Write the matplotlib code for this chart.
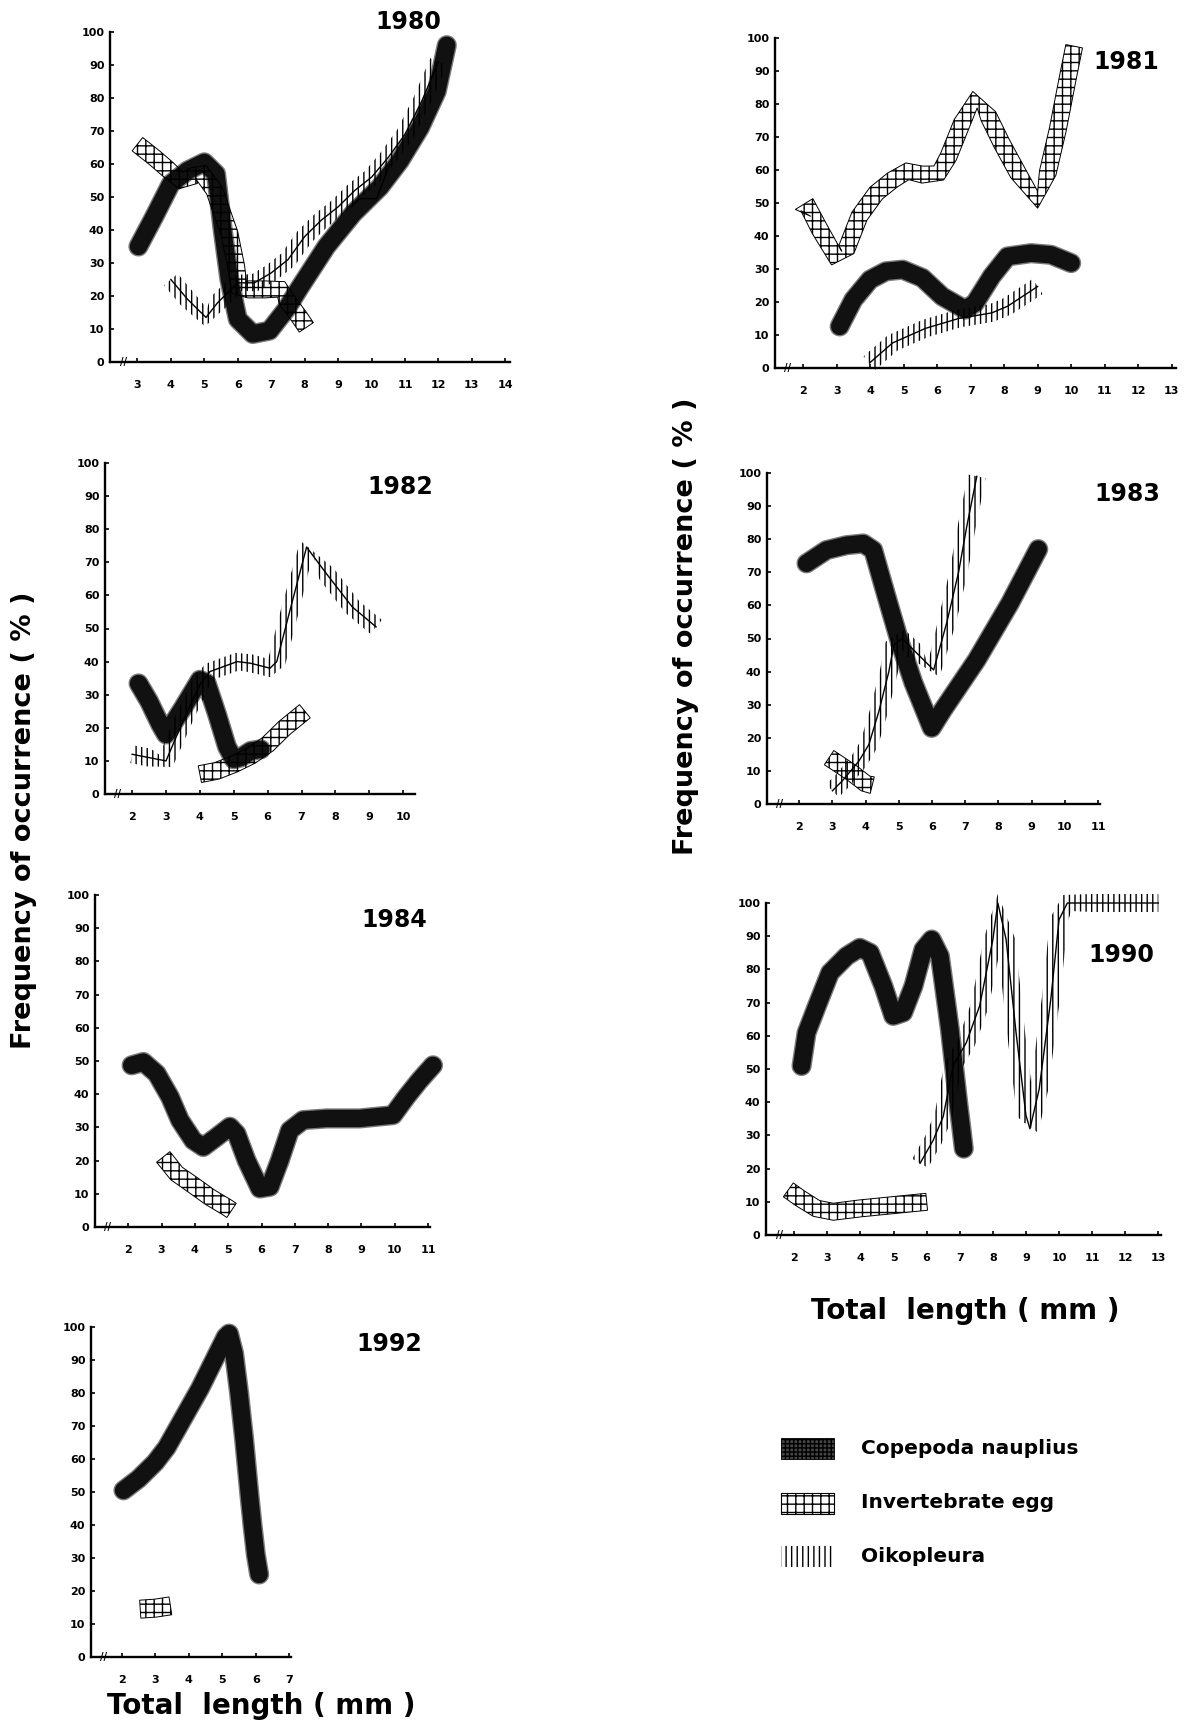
import numpy as np
import matplotlib
matplotlib.use("Agg")
import matplotlib.pyplot as plt
from matplotlib.patches import Polygon, Rectangle
import matplotlib.patheffects as pe

# ---------------- data ----------------
# 1980
cop80_x = [3.03, 3.5, 4.0, 4.5, 5.0, 5.35, 5.55, 5.75, 6.0, 6.45, 6.95, 7.45, 7.85, 8.65, 9.45, 10.25, 10.85, 11.45, 11.95, 12.25]
cop80_y = [35, 44, 54, 58, 60.5, 57, 40, 25, 13, 8.5, 9.5, 16, 22.5, 35, 45, 53, 61, 71, 82, 96]
egg80_x = [3.0, 3.5, 3.9, 4.3, 4.7, 4.9, 5.3, 5.75, 5.95, 6.05, 6.3, 6.8, 7.3, 7.45, 7.85, 8.05]
egg80_y = [66, 62, 58.5, 55, 56.5, 57.5, 52, 39, 29, 22, 22, 22, 22, 19, 13.5, 10.5]
oik80_x = [4.0, 4.5, 5.05, 5.4, 6.0, 6.5, 7.0, 7.5, 8.0, 8.5, 9.0, 9.5, 10.0, 10.5, 11.0, 11.5, 12.0]
oik80_y = [25, 19, 13.5, 18, 24, 24, 27, 31, 38, 43, 47, 52, 56, 62, 69, 79, 91]
thin80_x = [9.4, 9.65, 10.15, 10.55]
thin80_y = [47, 49.5, 49.5, 60]
# 1981
cop81_x = [3.09, 3.5, 4.0, 4.47, 4.97, 5.56, 6.15, 6.84, 7.13, 7.63, 8.1, 8.8, 9.4, 10.0]
cop81_y = [12.6, 20.7, 26.8, 29.3, 29.8, 27.3, 21.7, 17.7, 19.7, 27.8, 33.8, 34.8, 34.3, 31.8]
egg81_x = [2.0, 2.11, 2.5, 3.0, 3.29, 3.68, 4.18, 4.67, 5.11, 5.56, 6.05, 6.34, 6.74, 7.13, 7.53, 7.92, 8.41, 9.0, 9.3, 9.6, 9.89, 10.09]
egg81_y = [47, 49.5, 41.9, 33.3, 35.9, 46, 53, 57, 59.6, 58.6, 59.1, 64.1, 74.2, 81.3, 76.3, 68.2, 59.1, 51, 59.1, 72.2, 87.4, 97.5]
oik81_x = [3.98, 4.67, 5.65, 6.64, 7.63, 8.1, 9.0]
oik81_y = [1.5, 7.6, 12, 15, 16.7, 18.7, 24.7]
# 1982
cop82_x = [2.19, 2.5, 2.83, 3.0, 3.5, 4.0, 4.2, 4.5, 4.8, 5.0, 5.2, 5.5, 5.8]
cop82_y = [33.4, 28, 21, 18, 26, 34.5, 33.5, 24.3, 14.3, 10.5, 11, 13, 13.5]
egg82_x = [4.0, 4.5, 5.0, 5.5, 6.0, 6.5, 7.1]
egg82_y = [6, 7, 9, 11.5, 15, 20, 25]
oik82_x = [2.0, 2.5, 3.0, 3.5, 4.0, 4.3, 5.1, 5.5, 6.07, 6.27, 6.66, 7.15, 7.74, 8.5, 9.2]
oik82_y = [12, 11, 10, 22, 33, 37, 40, 39.5, 38, 40, 55.5, 74.6, 66.5, 56.5, 50.5]
# 1983
cop83_x = [2.22, 2.82, 3.43, 3.93, 4.23, 4.63, 5.04, 5.44, 5.99, 6.34, 7.35, 8.35, 9.2]
cop83_y = [72.7, 76.7, 78.2, 78.7, 76.7, 62.7, 48.6, 36.6, 23, 28.6, 43.6, 60.7, 77]
egg83_x = [2.9, 3.2, 3.6, 4.0, 4.2]
egg83_y = [14, 12, 9.3, 6.2, 5.7]
oik83_x = [3.0, 3.3, 3.8, 4.1, 4.4, 4.7, 4.85, 5.1, 5.45, 6.05, 6.45, 6.8, 7.05, 7.35]
oik83_y = [4, 7, 13, 18, 28, 40, 48, 50, 46.5, 40.5, 55, 70, 84, 99]
# 1984
cop84_x = [2.1, 2.45, 2.85, 3.25, 3.55, 3.95, 4.25, 4.65, 5.05, 5.25, 5.55, 5.95, 6.25, 6.55, 6.85, 7.25, 7.95, 8.95, 9.95, 10.35, 10.75, 11.15]
cop84_y = [48.7, 49.7, 46.2, 39.2, 32.2, 26.1, 24.1, 27.1, 30.2, 28.1, 20.1, 11.6, 12.1, 20.1, 29.1, 32.2, 32.7, 32.7, 33.7, 39.2, 44.2, 48.7]
egg84_x = [3.05, 3.45, 3.95, 4.45, 4.95, 5.1]
egg84_y = [21.1, 16.1, 12.6, 9.0, 6.0, 5.0]
# 1990
cop90_x = [2.22, 2.37, 2.68, 3.08, 3.58, 3.98, 4.29, 4.69, 4.99, 5.29, 5.6, 5.9, 6.15, 6.4, 6.7, 6.95, 7.05, 7.12]
cop90_y = [50.9, 60.9, 68.9, 79, 84, 86.5, 85, 75, 66, 67, 75, 86, 89, 84, 62, 40, 32, 26]
egg90_x = [1.82, 2.17, 2.67, 3.18, 3.98, 4.99, 6.0]
egg90_y = [13.6, 11.1, 8.0, 7.0, 8.0, 9.0, 10.0]
oik90_x = [5.8, 6.2, 6.5, 6.8, 7.2, 7.6, 8.0, 8.15, 8.4, 8.7, 9.0, 9.12, 9.4, 9.75, 10.0, 10.25, 11.0, 12.0, 13.0]
oik90_y = [21.6, 28.6, 35.7, 51, 58, 69, 89, 100, 89, 61, 36, 32, 44, 71, 95, 100, 100, 100, 100]
# 1992
cop92_x = [2.05, 2.5, 3.0, 3.34, 3.84, 4.34, 4.83, 5.1, 5.2, 5.35, 5.5, 5.65, 5.8, 5.9, 6.0, 6.1]
cop92_y = [50.5, 54, 59, 63.5, 72.5, 81.5, 91.5, 97, 98, 92, 80, 66, 50, 40, 31, 25]
egg92_x = [2.55, 3.0, 3.45]
egg92_y = [14.5, 14.8, 15.5]

y_ticks = [0, 10, 20, 30, 40, 50, 60, 70, 80, 90, 100]
legend_labels = ["Copepoda nauplius", "Invertebrate egg", "Oikopleura"]
x_label = "Total  length ( mm )"
y_label = "Frequency of occurrence ( % )"

# ---------------- figure ----------------
plt.rcParams["font.family"] = ["DejaVu Sans"]
plt.rcParams["hatch.linewidth"] = 1.0
plt.rcParams["hatch.color"] = "black"

W, H = 1185, 1730
fig = plt.figure(figsize=(W / 100, H / 100), dpi=100)


def make_ax(left, right, y0, y100, xl, xr, xticks):
    ax = fig.add_axes([left / W, 1 - y0 / H, (right - left) / W, (y0 - y100) / H])
    ax.set_xlim(xl, xr)
    ax.set_ylim(0, 100)
    for s in ("top", "right"):
        ax.spines[s].set_visible(False)
    for s in ("left", "bottom"):
        ax.spines[s].set_linewidth(1.7)
    ax.set_yticks(y_ticks)
    ax.set_xticks(xticks)
    ax.tick_params(direction="in", length=3, width=1.2, labelsize=8)
    ax.tick_params(axis="y", pad=4)
    ax.tick_params(axis="x", pad=13)
    for lab in ax.get_xticklabels() + ax.get_yticklabels():
        lab.set_fontweight("bold")
    ax.patch.set_alpha(0)
    return ax


def band(ax, x, y, half, hatch, edge_lw):
    pts = ax.transData.transform(np.column_stack([x, y]))
    d = np.gradient(pts, axis=0)
    nrm = np.column_stack([-d[:, 1], d[:, 0]])
    nrm /= np.hypot(nrm[:, 0], nrm[:, 1])[:, None]
    poly = np.vstack([pts + half * nrm, (pts - half * nrm)[::-1]])
    poly = ax.transData.inverted().transform(poly)
    ax.add_patch(Polygon(poly, closed=True, facecolor="none", edgecolor="black",
                         lw=edge_lw, hatch=hatch, clip_on=False, zorder=3))


def copepoda(ax, x, y):
    ax.plot(x, y, color="#111111", lw=12.5, solid_capstyle="round",
            solid_joinstyle="round", clip_on=False, zorder=2,
            path_effects=[pe.Stroke(linewidth=14.5, foreground="#7a7a7a"), pe.Normal()])


def egg(ax, x, y, half=8.5):
    band(ax, x, y, half, "++", 0.7)


def oiko(ax, x, y, half=9):
    band(ax, x, y, half, "|||", 0)
    ax.plot(x, y, color="black", lw=1.0, clip_on=False, zorder=4)


ov = fig.add_axes([0, 0, 1, 1])
ov.set_xlim(0, W)
ov.set_ylim(H, 0)
ov.axis("off")

panels = [
    # year, left, right, y0, y100, xl, xr, xticks, title position
    ("1980", 110, 510, 362, 32, 2.18, 14.14, list(range(3, 15)), (408, 22)),
    ("1981", 775, 1176, 368, 38, 1.16, 13.13, list(range(2, 14)), (1126, 62)),
    ("1982", 105, 415, 794, 463, 1.2, 10.35, list(range(2, 11)), (400, 487)),
    ("1983", 767, 1100, 804, 473, 1.03, 11.06, list(range(2, 12)), (1127, 494)),
    ("1984", 95, 430, 1227, 895, 1.0, 11.06, list(range(2, 12)), (394, 920)),
    ("1990", 766, 1161, 1235, 903, 1.145, 13.08, list(range(2, 14)), (1121, 955)),
    ("1992", 91, 291, 1657, 1327, 1.08, 7.05, list(range(2, 8)), (389, 1344)),
]

axes = {}
for yr, l, r, y0, y100, xl, xr, xt, tpos in panels:
    ax = make_ax(l, r, y0, y100, xl, xr, xt)
    axes[yr] = ax
    ov.text(tpos[0], tpos[1], yr, ha="center", va="center", fontsize=17, fontweight="bold")
    ov.text(l + 13, y0, "//", ha="center", va="center", fontsize=7, fontweight="bold")

a = axes["1980"]
copepoda(a, cop80_x, cop80_y)
egg(a, egg80_x, egg80_y)
oiko(a, oik80_x, oik80_y)
a.plot(thin80_x, thin80_y, color="black", lw=1.0, zorder=4)

a = axes["1981"]
copepoda(a, cop81_x, cop81_y)
egg(a, egg81_x, egg81_y)
oiko(a, oik81_x, oik81_y)

a = axes["1982"]
copepoda(a, cop82_x, cop82_y)
egg(a, egg82_x, egg82_y)
oiko(a, oik82_x, oik82_y)

a = axes["1983"]
copepoda(a, cop83_x, cop83_y)
egg(a, egg83_x, egg83_y)
oiko(a, oik83_x, oik83_y)

a = axes["1984"]
copepoda(a, cop84_x, cop84_y)
egg(a, egg84_x, egg84_y)

a = axes["1990"]
copepoda(a, cop90_x, cop90_y)
egg(a, egg90_x, egg90_y)
oiko(a, oik90_x, oik90_y)

a = axes["1992"]
copepoda(a, cop92_x, cop92_y)
egg(a, egg92_x, egg92_y, half=9)

# axis titles
ov.text(24, 820, y_label, rotation=90, ha="center", va="center", fontsize=19.5, fontweight="bold")
ov.text(686, 626, y_label, rotation=90, ha="center", va="center", fontsize=19.5, fontweight="bold")
ov.text(261, 1706, x_label, ha="center", va="center", fontsize=20, fontweight="bold")
ov.text(965, 1311, x_label, ha="center", va="center", fontsize=20, fontweight="bold")

# legend
leg_y = [1448, 1503, 1556]
ov.add_patch(Rectangle((781, leg_y[0] - 10), 53, 21, facecolor="#444444",
                       edgecolor="black", lw=0.6, hatch="++++"))
ov.add_patch(Rectangle((781, leg_y[1] - 10), 53, 21, facecolor="white",
                       edgecolor="black", lw=0.8, hatch="++"))
ov.add_patch(Rectangle((781, leg_y[2] - 10), 53, 21, facecolor="white",
                       edgecolor="black", lw=0, hatch="|||"))
for yy, lab in zip(leg_y, legend_labels):
    ov.text(861, yy, lab, ha="left", va="center", fontsize=14.5, fontweight="bold")

fig.savefig("out.png", dpi=100)
